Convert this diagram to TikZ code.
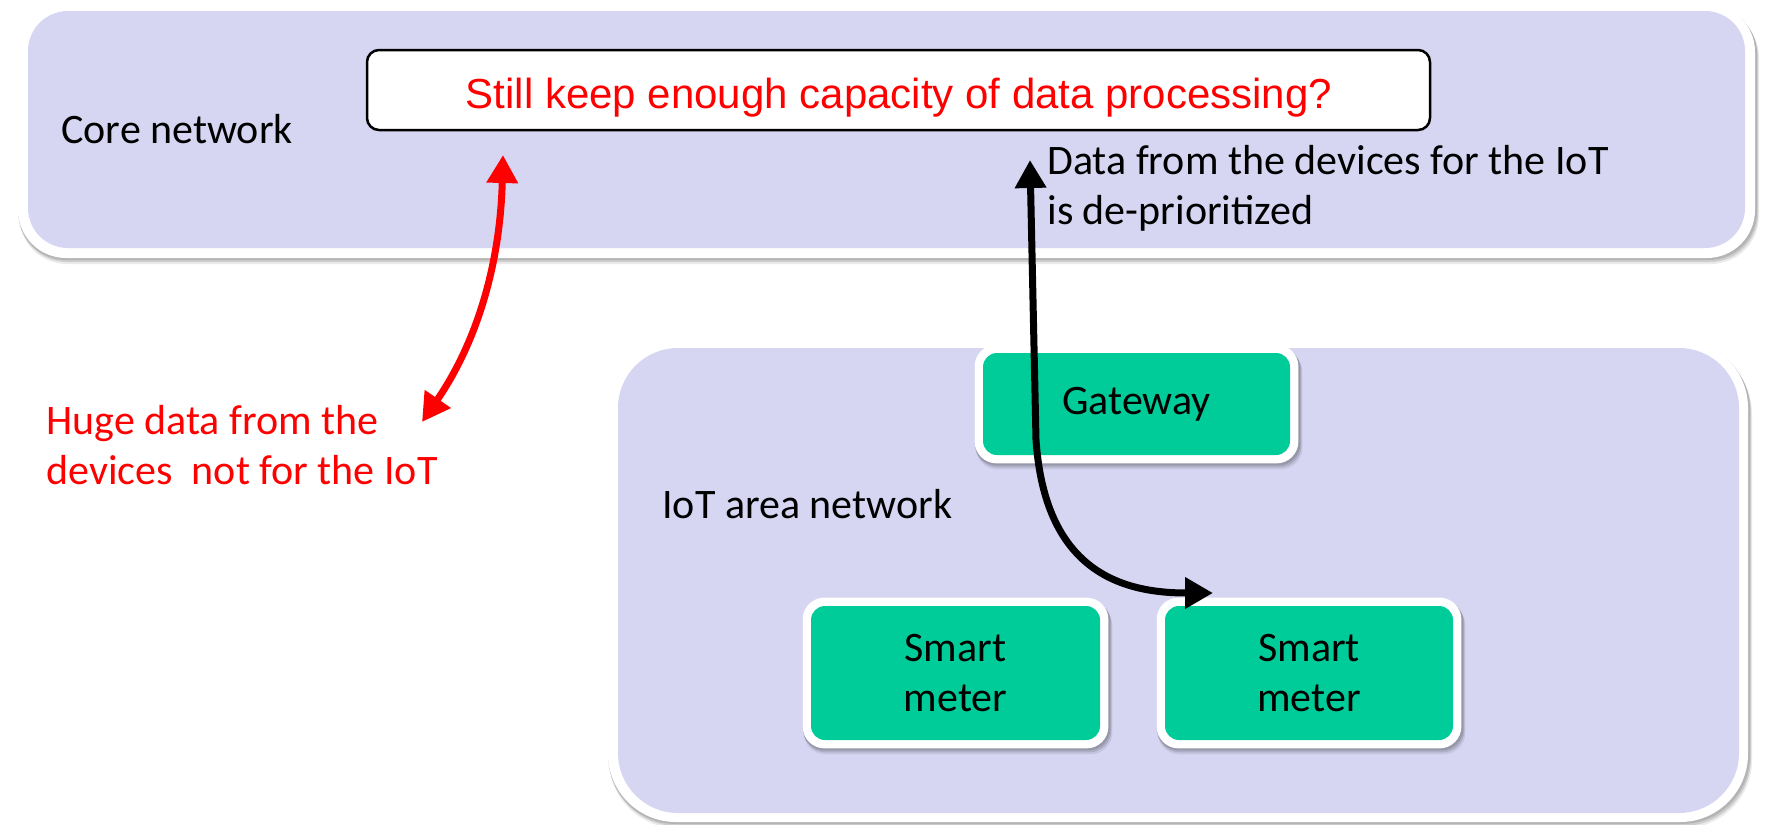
\documentclass[tikz,border=0pt]{standalone}
\usepackage{fontspec}
\setmainfont{Carlito}
\newfontfamily\arialfont{Liberation Sans}
\usetikzlibrary{arrows.meta,calc}
\definecolor{panel}{RGB}{214,214,243}
\definecolor{devgreen}{RGB}{0,204,153}
\definecolor{alertred}{RGB}{255,0,0}
\pgfdeclarelayer{back}
\pgfdeclarelayer{frames}
\pgfsetlayers{back,frames,main}
% rounded white frame with a soft shadow below and to the right
% #1 = corner radius, #2 = south-west corner, #3 = north-east corner
\newcommand\framedbox[3]{%
  \fill[black, opacity=0.08, rounded corners=#1] ($#2+(1,6)$) rectangle ($#3+(4,6)$);
  \fill[black, opacity=0.12, rounded corners=#1] ($#2+(1,4)$) rectangle ($#3+(3,4)$);
  \fill[black, opacity=0.12, rounded corners=#1] ($#2+(0,2)$) rectangle ($#3+(2,2)$);
  \fill[white, rounded corners=#1] #2 rectangle #3;
}
\begin{document}
\begin{tikzpicture}[x=0.5pt,y=-0.5pt,
  txt/.style={font=\fontsize{21}{25}\selectfont, inner sep=0pt},
  device/.style={txt, fill=devgreen, rounded corners=7pt, align=center},
  flowline/.style={line width=3.5pt},
  >={Triangle[length=14pt,width=15pt]},
]
\useasboundingbox (0,0) rectangle (1768,825);

\begin{pgfonlayer}{back}
  \fill[white] (0,0) rectangle (1768,825);
  % core network panel
  \framedbox{24pt}{(18,258)}{(1755,4)}
  \fill[panel, rounded corners=20pt] (28,11) rectangle (1745,248);
  % IoT area network panel
  \framedbox{34pt}{(608,822)}{(1748,340)}
  \fill[panel, rounded corners=30pt] (618,348) rectangle (1739,813);
\end{pgfonlayer}

% devices
\node[device, minimum width=153.5pt, minimum height=51pt] (gw) at (1136.5,404) {Gateway};
\node[device, minimum width=144.5pt, minimum height=67pt] (sm1) at (955.5,673) {Smart\\meter};
\node[device, minimum width=144pt, minimum height=67pt] (sm2) at (1309,673) {Smart\\meter};

\begin{pgfonlayer}{frames}
  \foreach \n in {gw,sm1,sm2}{
    \framedbox{11pt}{($(\n.south west)+(-8,8)$)}{($(\n.north east)+(8,-8)$)}
  }
\end{pgfonlayer}

% question box
\node[draw=black, line width=1.25pt, fill=white, rounded corners=6pt,
      minimum width=531.5pt, minimum height=40pt, inner sep=0pt] (q) at (898.5,90) {};
\node[font=\arialfont\fontsize{21}{25}\selectfont, text=alertred, anchor=base, inner sep=0pt]
  (qt) at (899,108) {Still keep enough capacity of data processing?};

% labels (base anchor of a two-line label sits on its last line)
\node[txt, anchor=base west] (corelbl) at (61,143) {Core network};
\node[txt, anchor=base west] (iotlbl) at (662,518) {IoT area network};
\node[txt, anchor=base west, align=left] (datalbl) at (1047,224)
  {Data from the devices for the IoT\\is de-prioritized};
\node[txt, anchor=base west, align=left, text=alertred] (hugelbl) at (46,484)
  {Huge data from the\\devices\ \ not for the IoT};

% traffic arrows
\coordinate (redtop) at (503,155);
\coordinate (redbot) at (422,422);
\draw[flowline, alertred, <->] (redtop) .. controls (500,268) and (475,345) .. (redbot);

\coordinate (blacktop) at (1030,160);
\coordinate (bend) at (1036,440);
\coordinate (blackbot) at (1213,593);
\draw[flowline, <->] (blacktop) -- (bend) .. controls (1045,570) and (1120,593) .. (blackbot);
\end{tikzpicture}
\end{document}
